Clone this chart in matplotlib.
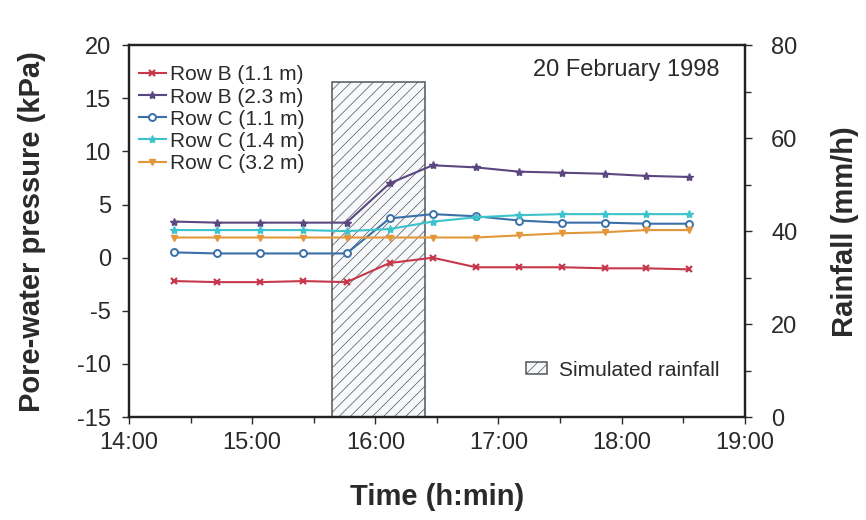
import matplotlib
matplotlib.use('Agg')
import matplotlib.pyplot as plt
from matplotlib.ticker import MultipleLocator, FixedLocator
import numpy as np

plt.rcParams['font.family'] = ['Liberation Sans', 'DejaVu Sans']
plt.rcParams['axes.unicode_minus'] = False
plt.rcParams['hatch.linewidth'] = 0.5
plt.rcParams['hatch.color'] = '#b2bac2'

# sampling times (h:min)
times = ['14:22', '14:43', '15:04', '15:25', '15:46', '16:07', '16:28',
         '16:49', '17:10', '17:31', '17:52', '18:12', '18:33']

# pore-water pressure (kPa)
row_b_11 = [-2.2, -2.3, -2.3, -2.2, -2.3, -0.5, 0.0, -0.9, -0.9, -0.9, -1.0, -1.0, -1.1]
row_b_23 = [3.4, 3.3, 3.3, 3.3, 3.3, 7.0, 8.7, 8.5, 8.1, 8.0, 7.9, 7.7, 7.6]
row_c_11 = [0.5, 0.4, 0.4, 0.4, 0.4, 3.7, 4.1, 3.9, 3.5, 3.3, 3.3, 3.2, 3.2]
row_c_14 = [2.6, 2.6, 2.6, 2.6, 2.5, 2.7, 3.4, 3.8, 4.0, 4.1, 4.1, 4.1, 4.1]
row_c_32 = [1.9, 1.9, 1.9, 1.9, 1.9, 1.9, 1.9, 1.9, 2.1, 2.3, 2.4, 2.6, 2.6]

# simulated rainfall
rain_start = '15:39'
rain_end = '16:24'
rain_rate = 72  # mm/h


def to_hours(t):
    h, m = t.split(':')
    return int(h) + int(m) / 60.0


x = np.array([to_hours(t) for t in times])
txt = '#2a2a2a'

fig = plt.figure(figsize=(8.66, 5.2), dpi=100)
ax1 = fig.add_axes([0.149, 0.198, 0.711, 0.715])
ax2 = ax1.twinx()

# rainfall on the right axis, drawn behind the lines
r0, r1 = to_hours(rain_start), to_hours(rain_end)
rain = ax2.bar([r0], [rain_rate], width=r1 - r0, align='edge',
               facecolor='#f6f8fa', edgecolor='#50555b', linewidth=1.1,
               hatch='///', label='Simulated rainfall')
ax2.set_ylim(0, 80)
ax2.yaxis.set_major_locator(MultipleLocator(20))
ax2.yaxis.set_minor_locator(MultipleLocator(10))
ax2.set_ylabel('Rainfall (mm/h)', fontsize=21, fontweight='bold',
               labelpad=24, color=txt)

ax1.set_zorder(ax2.get_zorder() + 1)
ax1.patch.set_visible(False)

lw = 1.5
ms = 5
ax1.plot(x, row_b_11, color='#c8384c', marker='x', ms=ms, mew=1.6, lw=lw, label='Row B (1.1 m)')
ax1.plot(x, row_b_23, color='#5b4680', marker='*', ms=ms + 1, lw=lw, label='Row B (2.3 m)')
ax1.plot(x, row_c_11, color='#3a6fa8', marker='o', ms=ms, mfc='white', mew=1.4, lw=lw, label='Row C (1.1 m)')
ax1.plot(x, row_c_14, color='#3cc3cc', marker='*', ms=ms + 1, lw=lw, label='Row C (1.4 m)')
ax1.plot(x, row_c_32, color='#e4973a', marker='v', ms=ms, lw=lw, label='Row C (3.2 m)')

ax1.set_xlim(14, 19)
ax1.set_ylim(-15, 20)
ax1.yaxis.set_major_locator(MultipleLocator(5))
ax1.xaxis.set_major_locator(FixedLocator([14, 15, 16, 17, 18, 19]))
ax1.xaxis.set_minor_locator(MultipleLocator(0.5))
ax1.set_xticklabels(['14:00', '15:00', '16:00', '17:00', '18:00', '19:00'])
ax1.set_xlabel('Time (h:min)', fontsize=21, fontweight='bold', labelpad=21, color=txt)
ax1.set_ylabel('Pore-water pressure (kPa)', fontsize=21, fontweight='bold',
               labelpad=22, color=txt)

for ax in (ax1, ax2):
    ax.tick_params(which='major', direction='out', length=5, width=1.0,
                   labelsize=17, colors=txt, pad=8)
    ax.tick_params(which='minor', direction='out', length=4, width=1.0, colors=txt)
    for s in ax.spines.values():
        s.set_linewidth(1.6)
        s.set_color('#222222')
ax1.tick_params(axis='x', pad=6)
ax2.tick_params(axis='y', pad=14)

leg1 = ax1.legend(loc='upper left', frameon=False, fontsize=15,
                  handlelength=1.3, handletextpad=0.2, labelspacing=0.15,
                  borderaxespad=0.3, bbox_to_anchor=(-0.008, 0.985))
for t in leg1.get_texts():
    t.set_color(txt)
ax1.add_artist(leg1)
leg2 = ax1.legend([rain], ['Simulated rainfall'], loc='lower right', frameon=False,
                  fontsize=15, handlelength=1.0, handleheight=0.5,
                  handletextpad=0.6, bbox_to_anchor=(0.99, 0.05))
for t in leg2.get_texts():
    t.set_color(txt)

ax1.text(0.959, 0.933, '20 February 1998', transform=ax1.transAxes,
         ha='right', va='center', fontsize=17, color=txt)

fig.savefig('out.png', dpi=100)
